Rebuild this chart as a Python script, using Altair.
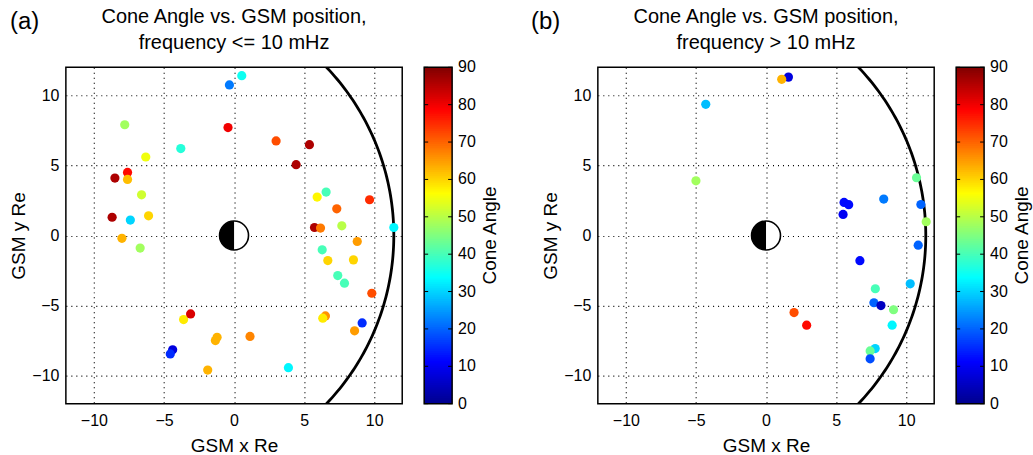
import numpy as np
import pandas as pd
import altair as alt

FONT = "Liberation Sans"

# Panel (a): frequency <= 10 mHz
xa = [0.55, -0.33, -7.8, -3.8, -0.43, 3.0, 5.38, 4.43, -6.3, -7.6, -8.5, -7.6, -6.6, -6.1, -7.4, -8.7, -8.0, -6.7,
      6.57, 5.93, 9.67, 7.33, 5.74, 6.17, 7.69, 8.79, 6.29, 6.69, 8.52, 7.4, 7.88, 9.83, 6.52, 6.33, 9.14, 8.6, 11.4,
      -4.38, -4.55, -1.21, -1.33, 1.14, -1.88, 3.88, -3.6, -3.1]
ya = [11.4, 10.74, 7.9, 6.2, 7.7, 6.75, 6.48, 5.05, 5.6, 4.5, 4.1, 4.0, 2.9, 1.4, 1.1, 1.3, -0.2, -0.9,
      3.1, 2.74, 2.55, 1.9, 0.57, 0.53, 0.69, -0.43, -1.02, -1.79, -1.74, -2.86, -3.4, -4.12, -5.74, -5.9, -6.24, -6.8, 0.57,
      -8.16, -8.45, -7.26, -7.5, -7.2, -9.6, -9.43, -6.0, -5.6]
cone_a = [35, 22, 48, 37, 80, 72, 86, 86, 55, 78, 86, 62, 52, 60, 30, 86, 63, 48,
          40, 57, 75, 70, 86, 68, 50, 65, 40, 60, 60, 40, 40, 72, 66, 58, 15, 65, 33,
          8, 15, 63, 63, 67, 63, 33, 58, 82]

# Panel (b): frequency > 10 mHz
xb = [1.6, 1.12, -4.3, -5.0, 10.74, 11.05, 11.43, 10.86, 10.29, 5.57, 5.9, 5.5, 8.4, 6.7, 7.8, 7.7, 8.2, 9.1,
      9.0, 2.0, 2.9, 7.79, 7.43, 7.43]
yb = [11.3, 11.14, 9.36, 3.9, 4.12, 2.21, 0.98, -0.69, -3.45, 2.36, 2.2, 1.5, 2.6, -1.8, -3.8, -4.8, -5.0, -5.3,
      -6.4, -5.5, -6.4, -8.07, -8.24, -8.8]
cone_b = [8, 63, 28, 48, 43, 20, 48, 20, 28, 12, 12, 10, 22, 12, 40, 20, 5, 45,
          33, 72, 78, 30, 43, 18]

# Boundary curve: circular arc with centre (BX0, 0) and radius BR, in Re
BX0, BR = -6.0, 17.4
by = np.linspace(-12.6, 12.6, 121)
boundary = pd.DataFrame({"x": BX0 + np.sqrt(BR ** 2 - by ** 2), "y": by})

LIM = [-12, 12]
TICKS = [-10, -5, 0, 5, 10]
CB_TICKS = [0, 10, 20, 30, 40, 50, 60, 70, 80, 90]
CB_MAX = 90
CB_STEP = 0.5

# jet colour map over 0..90 degrees
jet = alt.Scale(domain=[0, 11.25, 33.75, 56.25, 78.75, 90],
                range=["#00008f", "#0000ff", "#00ffff", "#ffff00", "#ff0000", "#800000"],
                interpolate="rgb")

xs = alt.Scale(domain=LIM, nice=False, zero=False)
ys = alt.Scale(domain=LIM, nice=False, zero=False)
cs = alt.Scale(domain=[0, CB_MAX], nice=False, zero=False)
xaxis = alt.Axis(title="GSM x Re", values=TICKS, labelPadding=9)
yaxis = alt.Axis(title="GSM y Re", values=TICKS)

# earth: white disc with dark night-side half and outline
LEFT_HALF = "M0,-1 A1,1 0 0 0 0,1 Z"
EARTH_SIZE = 841

W = H = 337
CB_GAP, CB_W, CB_TICK = 22, 28, 4

# colour-bar strips (slightly overlapping so no seams show)
cb_lo = np.arange(0, CB_MAX, CB_STEP)
colorbar = pd.DataFrame({"lo": cb_lo, "hi": np.minimum(cb_lo + CB_STEP * 1.6, CB_MAX), "mid": cb_lo + CB_STEP / 2})
cb_ticks = pd.DataFrame({"t": CB_TICKS, "txt": [str(v) for v in CB_TICKS]})
cb_frame = pd.DataFrame({"lo": [0], "hi": [CB_MAX]})


def colour_bar():
    strips = alt.Chart(colorbar).mark_rect(strokeWidth=0).encode(
        x=alt.value(W + CB_GAP), x2=alt.value(W + CB_GAP + CB_W),
        y=alt.Y("lo:Q", scale=cs, axis=None),
        y2="hi:Q",
        color=alt.Color("mid:Q", scale=jet, legend=None),
    )
    frame = alt.Chart(cb_frame).mark_rect(fill=None, stroke="black", strokeWidth=1.5).encode(
        x=alt.value(W + CB_GAP), x2=alt.value(W + CB_GAP + CB_W),
        y=alt.Y("lo:Q", scale=cs, axis=None), y2="hi:Q")
    tick_l = alt.Chart(cb_ticks).mark_rule(color="black", strokeWidth=1).encode(
        x=alt.value(W + CB_GAP), x2=alt.value(W + CB_GAP + CB_TICK),
        y=alt.Y("t:Q", scale=cs, axis=None))
    tick_r = alt.Chart(cb_ticks).mark_rule(color="black", strokeWidth=1).encode(
        x=alt.value(W + CB_GAP + CB_W - CB_TICK), x2=alt.value(W + CB_GAP + CB_W),
        y=alt.Y("t:Q", scale=cs, axis=None))
    labels = alt.Chart(cb_ticks).mark_text(fontSize=16, font=FONT, align="left", baseline="middle",
                                           color="black").encode(
        x=alt.value(W + CB_GAP + CB_W + 6), y=alt.Y("t:Q", scale=cs, axis=None), text="txt:N")
    caption = alt.Chart(cb_frame).mark_text(text="Cone Angle", fontSize=19, font=FONT, angle=270,
                                            align="center", baseline="middle", color="black").encode(
        x=alt.value(W + 88), y=alt.value(H / 2))
    return alt.layer(strips, tick_l, tick_r, frame, labels, caption)


def panel(x, y, cone, tag, tag_dx, subtitle):
    pts = pd.DataFrame({"x": x, "y": y, "cone": cone})
    origin = pd.DataFrame({"x": [0.0], "y": [0.0]})

    curve = alt.Chart(boundary).mark_line(color="black", strokeWidth=2.8, clip=True).encode(
        x=alt.X("x:Q", scale=xs, axis=xaxis),
        y=alt.Y("y:Q", scale=ys, axis=yaxis),
        order=alt.Order("y:Q"),
    )
    disc = alt.Chart(origin).mark_point(shape="circle", size=EARTH_SIZE, filled=True,
                                        color="white", opacity=1).encode(
        x=alt.X("x:Q", scale=xs), y=alt.Y("y:Q", scale=ys))
    night = alt.Chart(origin).mark_point(shape=LEFT_HALF, size=EARTH_SIZE, filled=True,
                                         color="black", opacity=1).encode(
        x=alt.X("x:Q", scale=xs), y=alt.Y("y:Q", scale=ys))
    rim = alt.Chart(origin).mark_point(shape="circle", size=EARTH_SIZE, filled=False,
                                       color="black", strokeWidth=1.6, opacity=1).encode(
        x=alt.X("x:Q", scale=xs), y=alt.Y("y:Q", scale=ys))

    dots = alt.Chart(pts).mark_circle(size=85, opacity=1).encode(
        x=alt.X("x:Q", scale=xs),
        y=alt.Y("y:Q", scale=ys),
        color=alt.Color("cone:Q", scale=jet, legend=None),
    )

    head1 = alt.Chart(origin).mark_text(text="Cone Angle vs. GSM position,", fontSize=20, font=FONT,
                                        align="center", baseline="middle", color="black").encode(
        x=alt.value(W / 2), y=alt.value(-50))
    head2 = alt.Chart(origin).mark_text(text=subtitle, fontSize=20, font=FONT,
                                        align="center", baseline="middle", color="black").encode(
        x=alt.value(W / 2), y=alt.value(-24))

    label = alt.Chart(origin).mark_text(text=tag, fontSize=24, font=FONT, align="left",
                                        baseline="middle", color="black").encode(
        x=alt.value(tag_dx), y=alt.value(-45))

    plot = alt.layer(curve, disc, night, rim, dots, head1, head2, label)
    return alt.layer(plot, colour_bar()).resolve_scale(y="independent").properties(width=W, height=H)


left = panel(xa, ya, cone_a, "(a)", -56, "frequency <= 10 mHz")
right = panel(xb, yb, cone_b, "(b)", -67, "frequency > 10 mHz")

chart = alt.hconcat(left, right, spacing=29).properties(
    padding={"left": 9, "top": 6, "right": 0, "bottom": 0}
).configure_view(stroke="black", strokeWidth=1.5).configure_axis(
    grid=True, gridColor="black", gridDash=[1, 4], gridOpacity=1, gridWidth=1.2,
    domain=False, ticks=False, labelFontSize=16, labelFont=FONT, labelColor="black",
    labelPadding=7, titleFontSize=19, titleFont=FONT, titleFontWeight="normal",
    titleColor="black",
).configure_axisX(titlePadding=8).configure_axisY(titlePadding=3)

chart.save("out.html", embed_options={"renderer": "svg", "actions": False})
